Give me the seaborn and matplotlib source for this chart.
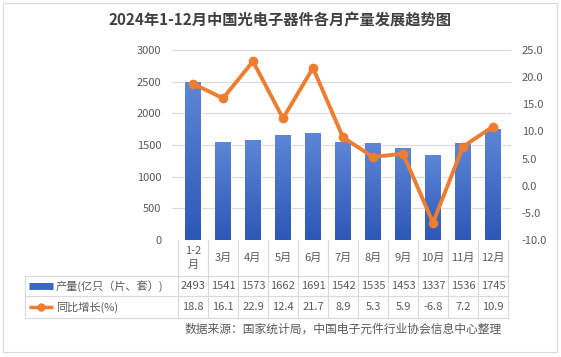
import numpy as np
import pandas as pd
import matplotlib
matplotlib.use("Agg")
import matplotlib.pyplot as plt
import seaborn as sns
from matplotlib.transforms import Affine2D
from matplotlib.lines import Line2D
from matplotlib.patches import Rectangle

# Dados do gráfico
MESES = ['1-2\n月', '3月', '4月', '5月', '6月', '7月', '8月', '9月', '10月', '11月', '12月']
PRODUCAO = [2493, 1541, 1573, 1662, 1691, 1542, 1535, 1453, 1337, 1536, 1745]
CRESCIMENTO = [18.8, 16.1, 22.9, 12.4, 21.7, 8.9, 5.3, 5.9, -6.8, 7.2, 10.9]
SERIE_BARRA = '产量(亿只（片、套）)'
SERIE_LINHA = '同比增长(%)'
TITULO = '2024年1-12月中国光电子器件各月产量发展趋势图'
FONTE = '数据来源：国家统计局，中国电子元件行业协会信息中心整理'

W, H = 561, 357
AZUL = '#3a66c4'
LARANJA = '#ed7d31'
CINZA_TXT = '#595959'
CINZA_GRID = '#d9d9d9'

sns.set_theme(style="white")
plt.rcParams['font.family'] = ['Noto Sans CJK SC', 'DejaVu Sans']

df = pd.DataFrame({'mes': MESES, 'producao': PRODUCAO, 'crescimento': CRESCIMENTO})

fig = plt.figure(figsize=(W / 100, H / 100), dpi=100)
# coordenadas em pixels (y para baixo)
px = Affine2D().scale(1 / W, -1 / H).translate(0, 1) + fig.transFigure

x0, x1, ytop, ybot = 178, 508, 50, 240
ax = fig.add_axes([x0 / W, 1 - ybot / H, (x1 - x0) / W, (ybot - ytop) / H])

sns.barplot(data=df, x='mes', y='producao', color=AZUL, width=0.52, ax=ax, zorder=2)
ax.set_xticks([])
ax.set_xlabel('')
ax.set_ylabel('')
ax.set_yticks(range(0, 3001, 500))
ax.tick_params(axis='y', colors=CINZA_TXT, labelsize=8, length=0, pad=12)
for s in ax.spines.values():
    s.set_visible(False)

# gradiente nas barras
grad = np.linspace(0, 1, 256).reshape(-1, 1)
cmap = matplotlib.colors.LinearSegmentedColormap.from_list('g', ['#2c58b6', '#5d86d6'])
for p in ax.patches:
    bx, by, bw, bh = p.get_x(), p.get_y(), p.get_width(), p.get_height()
    im = ax.imshow(grad, cmap=cmap, origin='lower', aspect='auto',
                   extent=[bx, bx + bw, by, by + bh], zorder=2.5)
    im.set_clip_path(p)
ax.set_xlim(-0.5, len(MESES) - 0.5)
ax.set_ylim(0, 3000)

# linhas de grade um pouco além da área do gráfico
for v in range(500, 3001, 500):
    ax.plot([-0.7, len(MESES) - 0.45], [v, v], color=CINZA_GRID, lw=0.8,
            zorder=0, clip_on=False)

ax2 = ax.twinx()
sns.lineplot(x=np.arange(len(MESES)), y=CRESCIMENTO, color=LARANJA, lw=2.8,
             marker='o', markersize=7, markeredgewidth=0, ax=ax2, zorder=3)
ax2.set_ylim(-10, 25)
ax2.set_yticks(range(-10, 26, 5))
ax2.set_yticklabels([f'{v:.1f}' for v in range(-10, 26, 5)])
ax2.tick_params(axis='y', colors=CINZA_TXT, labelsize=8, length=0, pad=10)
for s in ax2.spines.values():
    s.set_visible(False)

# título
fig.text(280 / W, 1 - 20 / H, TITULO, ha='center', va='center', fontsize=11,
         fontweight='bold', color='#404040')

# tabela de dados
cw = (x1 - x0) / len(MESES)
lkw = dict(color=CINZA_GRID, lw=0.8, transform=px)
for y in [276, 296, 318]:
    fig.add_artist(Line2D([25, x1], [y, y], **lkw))
for i in range(len(MESES) + 1):
    fig.add_artist(Line2D([x0 + i * cw] * 2, [240, 318], **lkw))
fig.add_artist(Line2D([25, 25], [276, 318], **lkw))

for i, m in enumerate(MESES):
    cx = x0 + (i + 0.5) * cw
    fig.text(cx, 258, m, transform=px, ha='center', va='center', fontsize=8,
             color=CINZA_TXT, linespacing=1.5)
    fig.text(cx, 286, str(PRODUCAO[i]), transform=px, ha='center', va='center',
             fontsize=8, color=CINZA_TXT)
    fig.text(cx, 307, f'{CRESCIMENTO[i]:.1f}', transform=px, ha='center', va='center',
             fontsize=8, color=CINZA_TXT)

fig.add_artist(Line2D([29, 53], [286, 286], color=AZUL, lw=5,
                      solid_capstyle='butt', transform=px))
fig.text(56, 286, SERIE_BARRA, transform=px, ha='left', va='center', fontsize=8, color=CINZA_TXT)
fig.add_artist(Line2D([29, 53], [307, 307], color=LARANJA, lw=2.5,
                      solid_capstyle='butt', transform=px))
fig.add_artist(Line2D([41], [307], color=LARANJA, marker='o', markersize=5, transform=px))
fig.text(56, 307, SERIE_LINHA, transform=px, ha='left', va='center', fontsize=8, color=CINZA_TXT)

fig.text(343, 329, FONTE, transform=px, ha='center', va='center', fontsize=8.5, color=CINZA_TXT)

# moldura
fig.add_artist(Rectangle((3, 3), 554, 349, transform=px, fill=False, ec='#d9d9d9', lw=0.8))

fig.savefig('out.png', dpi=100)
